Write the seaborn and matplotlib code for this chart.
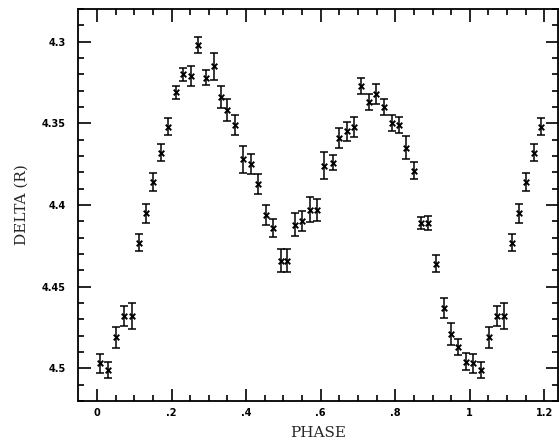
import matplotlib
matplotlib.use("Agg")
import matplotlib.pyplot as plt
import numpy as np
import pandas as pd
import seaborn as sns

# -----------------------------
# Data
# -----------------------------
phase = [0.008, 0.030, 0.051, 0.072, 0.093, 0.114, 0.132, 0.151, 0.172, 0.191,
         0.211, 0.232, 0.252, 0.272, 0.292, 0.313, 0.332, 0.350, 0.370, 0.391,
         0.413, 0.432, 0.452, 0.473, 0.494, 0.509, 0.530, 0.549, 0.572, 0.591,
         0.610, 0.632, 0.650, 0.670, 0.689, 0.708, 0.729, 0.748, 0.770, 0.791,
         0.810, 0.830, 0.849, 0.870, 0.889, 0.909, 0.930, 0.950, 0.968, 0.989]
delta = [4.497, 4.501, 4.481, 4.468, 4.468, 4.423, 4.405, 4.386, 4.368, 4.352,
         4.331, 4.320, 4.321, 4.302, 4.322, 4.315, 4.334, 4.342, 4.351, 4.372,
         4.375, 4.387, 4.406, 4.414, 4.434, 4.434, 4.412, 4.410, 4.403, 4.403,
         4.376, 4.374, 4.359, 4.355, 4.352, 4.327, 4.337, 4.332, 4.340, 4.350,
         4.351, 4.365, 4.379, 4.411, 4.411, 4.436, 4.463, 4.479, 4.487, 4.496]
err = [0.0060, 0.0050, 0.0063, 0.0059, 0.0080, 0.0050, 0.0058, 0.0053, 0.0053, 0.0051,
       0.0040, 0.0040, 0.0063, 0.0049, 0.0048, 0.0082, 0.0068, 0.0068, 0.0061, 0.0082,
       0.0061, 0.0061, 0.0060, 0.0055, 0.0071, 0.0071, 0.0071, 0.0061, 0.0076, 0.0069,
       0.0084, 0.0044, 0.0061, 0.0061, 0.0061, 0.0048, 0.0047, 0.0061, 0.0051, 0.0050,
       0.0050, 0.0071, 0.0051, 0.0038, 0.0042, 0.0051, 0.0059, 0.0066, 0.0049, 0.0051]

x_ticks = [0, 0.2, 0.4, 0.6, 0.8, 1.0, 1.2]
x_tick_labels = ["0", ".2", ".4", ".6", ".8", "1", "1.2"]
y_ticks = [4.3, 4.35, 4.4, 4.45, 4.5]
y_tick_labels = ["4.3", "4.35", "4.4", "4.45", "4.5"]

# phase-folded: repeat the start of the cycle past phase 1
df = pd.DataFrame({"phase": phase, "delta": delta, "err": err})
wrap = df[df["phase"] < 0.2].copy()
wrap["phase"] = wrap["phase"] + 1
df = pd.concat([df, wrap], ignore_index=True)

# -----------------------------
# Plot
# -----------------------------
sns.set_style("ticks")
plt.rcParams["font.family"] = ["DejaVu Sans"]

fig = plt.figure(figsize=(5.59, 4.43), dpi=100)
ax = fig.add_axes([0.1395, 0.0948, 0.859, 0.885])

ax.errorbar(df["phase"], df["delta"], yerr=df["err"], fmt="none",
            ecolor="black", elinewidth=1.1, capsize=2.6, capthick=1.1)
sns.scatterplot(data=df, x="phase", y="delta", marker="x", color="black",
                s=16, linewidth=1.4, ax=ax, legend=False)

ax.set_xlim(-0.051, 1.237)
ax.set_ylim(4.52, 4.28)

ax.set_xticks(x_ticks)
ax.set_xticklabels(x_tick_labels)
ax.set_xticks(np.arange(0, 1.25, 0.05), minor=True)
ax.set_yticks(y_ticks)
ax.set_yticklabels(y_tick_labels)
ax.set_yticks(np.arange(4.28, 4.521, 0.01), minor=True)

ax.tick_params(which="both", direction="in", top=True, right=True,
               colors="black", width=1.2)
ax.tick_params(which="major", length=9, labelsize=7)
ax.tick_params(axis="x", which="major", pad=5)
ax.tick_params(axis="y", which="major", pad=9)
ax.tick_params(which="minor", length=4)
for lab in ax.get_xticklabels() + ax.get_yticklabels():
    lab.set_fontweight("bold")

for side in ["left", "right", "top", "bottom"]:
    ax.spines[side].set_visible(True)
    ax.spines[side].set_linewidth(1.3)
    ax.spines[side].set_color("black")

ax.set_xlabel("PHASE", family="DejaVu Serif", fontsize=11, labelpad=6)
ax.set_ylabel("DELTA (R)", family="DejaVu Serif", fontsize=11, labelpad=9)

fig.savefig("out.png", dpi=100, facecolor="white")
